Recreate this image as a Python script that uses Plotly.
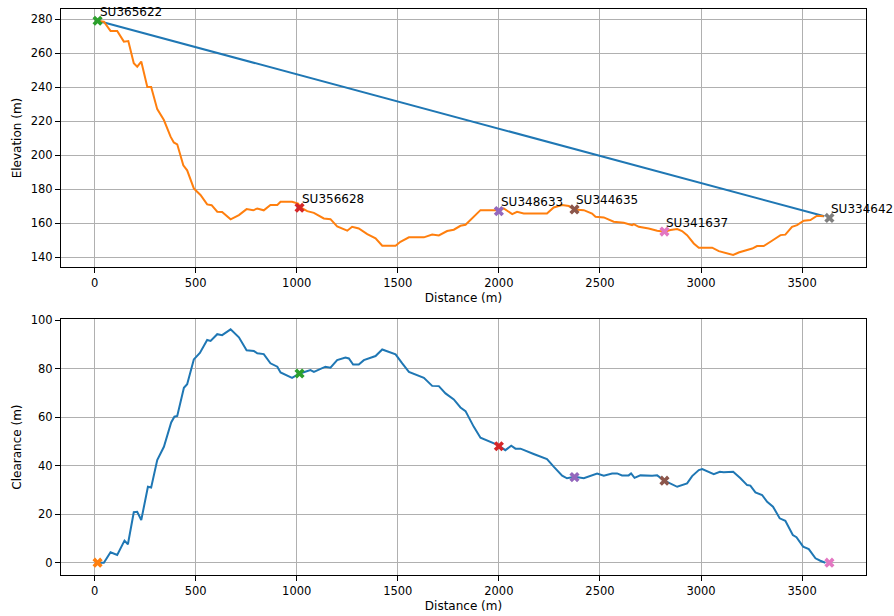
import plotly.graph_objects as go

# ---- terrain profile (top chart) ----
elev_dist = [13, 46, 79, 112, 145, 167, 194, 211, 231, 261, 280, 310, 343, 376, 392, 409, 439, 458,
             491, 524, 557, 579, 607, 631, 673, 714, 752, 785, 805, 837, 870, 904, 920, 977, 1007,
             1019, 1052, 1085, 1134, 1167, 1200, 1250, 1274, 1307, 1349, 1390, 1423, 1489, 1513,
             1555, 1629, 1670, 1703, 1744, 1777, 1810, 1835, 1876, 1909, 1991, 2000, 2024, 2066,
             2090, 2123, 2238, 2271, 2313, 2346, 2374, 2420, 2461, 2478, 2519, 2568, 2618, 2659,
             2667, 2692, 2741, 2783, 2819, 2849, 2882, 2906, 2931, 2964, 2989, 3055, 3088, 3129,
             3159, 3186, 3228, 3253, 3277, 3310, 3351, 3393, 3417, 3450, 3475, 3508, 3541, 3574, 3607]
elev = [278.8, 278.4, 273, 273, 266.7, 267, 254, 252, 255, 240, 240, 227, 220.6, 210.8, 207.4, 206.3,
        194, 191, 180.4, 176.5, 171, 170.5, 166.7, 166.5, 162.2, 164.7, 168.2, 167.5, 168.6, 167.5,
        170.6, 170.6, 172.5, 172.5, 171.5,
        169.2, 167, 166, 162.7, 162.3, 158, 155.5, 157.8, 156.8, 153.5, 151, 146.7, 146.7, 149,
        151.6, 151.6, 153.3, 152.7, 155.3, 156.1, 158.4, 159, 163.7, 167.6, 167.6, 167, 168.6, 165.3,
        166.6, 165.6, 165.6, 169.2, 170.6, 170, 168, 167.6, 165.6, 163.7, 163.3, 160.8, 160.2, 158.8,
        159.4, 157.8, 156.8, 155.5, 154.9, 155.9, 156.5, 155.3, 152.9, 148, 145.5, 145.5, 143.5, 142.1,
        141.2, 142.7, 144.1, 145, 146.5, 146.5, 149.6, 152.9, 153.2, 157.8, 158.8, 161.4, 161.8, 164.3, 164]

# ---- line of sight ----
los_dist = [15, 3610]
los_elev = [279.0, 164.0]

# ---- clearance (bottom chart) ----
clear_dist = [15, 46, 79, 112, 148, 165, 194, 211, 231, 264, 280, 310, 343, 379, 395, 409, 442, 458,
              491, 521, 557, 574, 607, 631, 673, 714, 752, 788, 805, 837, 870, 904, 920, 977, 1015,
              1068, 1085, 1142, 1167, 1200, 1241, 1258, 1279, 1307, 1332, 1390, 1423, 1489, 1522,
              1555, 1629, 1670, 1703, 1736, 1777, 1810, 1835, 1876, 1909, 1942, 1996, 2032, 2061,
              2082, 2107, 2172, 2238, 2271, 2313, 2337, 2374, 2420, 2461, 2486, 2519, 2560, 2585,
              2609, 2642, 2654, 2671, 2700, 2758, 2783, 2819, 2849, 2882, 2931, 2956, 2989, 3006,
              3063, 3093, 3112, 3132, 3159, 3195, 3228, 3244, 3269, 3302, 3327, 3356, 3389, 3417,
              3454, 3472, 3505, 3533, 3566, 3590, 3615]
clearance = [0, 0, 4.3, 3.2, 9.1, 7.6, 20.8, 21, 17.6, 31.3, 31, 42.3, 47.8, 57.8, 60.2, 60.5, 72.1,
             73.6, 83.8, 86.5, 91.8, 91.4, 94.2, 93.8, 96.2, 92.9, 87.6, 87.3, 86.3, 86, 82.2, 80.8,
             78.4, 76.2, 78, 79.4, 78.7, 80.8, 80.4, 83.5, 84.6, 84.2, 81.7, 81.7, 83.5, 85.2, 87.9,
             85.9, 82.2, 78.7, 76.2, 72.9, 72.8, 69.8, 67.3, 64, 62.5, 56, 51.5, 50.3, 48.5, 46.4,
             48.2, 47, 47, 44.8, 42.7, 39.6, 35.9, 34.8, 35.4, 34.8, 36.1, 36.8, 35.9, 36.8, 36.8,
             36, 36, 36.8, 35, 36, 35.8, 36, 33.8, 32.7, 31.3, 32.7, 35.7, 38.2, 38.6, 36.5, 37.5,
             37.3, 37.5, 37.5, 34.8, 32, 31.8, 29, 27.9, 25.1, 23.1, 18.3, 17.3, 11.4, 10.5, 6.6,
             5.6, 1.8, 0.8, 0]

# ---- named sites ----
site_names = ["SU365622", "SU356628", "SU348633", "SU344635", "SU341637", "SU334642"]
site_dist = [15, 1014, 2000, 2374, 2819, 3635]
site_elev = [279, 169, 167, 168, 155, 163]
site_clear = [0, 78, 48, 35.3, 33.8, 0]

x_ticks = [0, 500, 1000, 1500, 2000, 2500, 3000, 3500]
elev_ticks = [140, 160, 180, 200, 220, 240, 260, 280]
clear_ticks = [0, 20, 40, 60, 80, 100]

tab10 = ["#1f77b4", "#ff7f0e", "#2ca02c", "#d62728", "#9467bd", "#8c564b", "#e377c2", "#7f7f7f"]
FONT = "DejaVu Sans"

fig = go.Figure()
fig.add_trace(go.Scatter(x=los_dist, y=los_elev, mode="lines",
                         line=dict(color=tab10[0], width=2), xaxis="x", yaxis="y"))
fig.add_trace(go.Scatter(x=elev_dist, y=elev, mode="lines",
                         line=dict(color=tab10[1], width=2), xaxis="x", yaxis="y"))
for i, name in enumerate(site_names):
    fig.add_trace(go.Scatter(x=[site_dist[i]], y=[site_elev[i]], mode="markers",
                             marker=dict(symbol="x", size=9, color=tab10[2 + i]),
                             xaxis="x", yaxis="y"))
    fig.add_annotation(x=site_dist[i], y=site_elev[i], xref="x", yref="y", text=name,
                       showarrow=False, xanchor="left", yanchor="bottom",
                       font=dict(family=FONT, size=12, color="black"))

fig.add_trace(go.Scatter(x=clear_dist, y=clearance, mode="lines",
                         line=dict(color=tab10[0], width=2), xaxis="x2", yaxis="y2"))
for i in range(len(site_names)):
    fig.add_trace(go.Scatter(x=[site_dist[i]], y=[site_clear[i]], mode="markers",
                             marker=dict(symbol="x", size=9, color=tab10[1 + i]),
                             xaxis="x2", yaxis="y2"))

axis_common = dict(showline=True, linecolor="black", linewidth=1, mirror=True,
                   ticks="outside", ticklen=5, tickcolor="black", tickwidth=1,
                   showgrid=True, gridcolor="#b0b0b0", gridwidth=1, zeroline=False,
                   automargin=False,
                   tickfont=dict(family=FONT, size=11.5, color="black"))

fig.update_layout(
    width=894, height=616, showlegend=False,
    plot_bgcolor="white", paper_bgcolor="white",
    margin=dict(l=61, r=28, t=9, b=41),
    font=dict(family=FONT, color="black"),
    xaxis=dict(domain=[0, 1], anchor="y", range=[-166, 3816], tickvals=x_ticks,
               title=dict(text="Distance (m)", font=dict(family=FONT, size=12), standoff=4),
               **axis_common),
    yaxis=dict(domain=[0.544, 1], anchor="x", range=[134.1, 285.9], tickvals=elev_ticks,
               title=dict(text="Elevation (m)", font=dict(family=FONT, size=12), standoff=6),
               **axis_common),
    xaxis2=dict(domain=[0, 1], anchor="y2", range=[-166, 3816], tickvals=x_ticks,
                title=dict(text="Distance (m)", font=dict(family=FONT, size=12), standoff=4),
                **axis_common),
    yaxis2=dict(domain=[0, 0.452], anchor="x2", range=[-5.07, 100.4], tickvals=clear_ticks,
                title=dict(text="Clearance (m)", font=dict(family=FONT, size=12), standoff=6),
                **axis_common),
)

fig.write_html(
    "out.html",
    config={"displayModeBar": False},
    post_script="document.body.style.margin='0';document.body.style.overflow='hidden';",
)
